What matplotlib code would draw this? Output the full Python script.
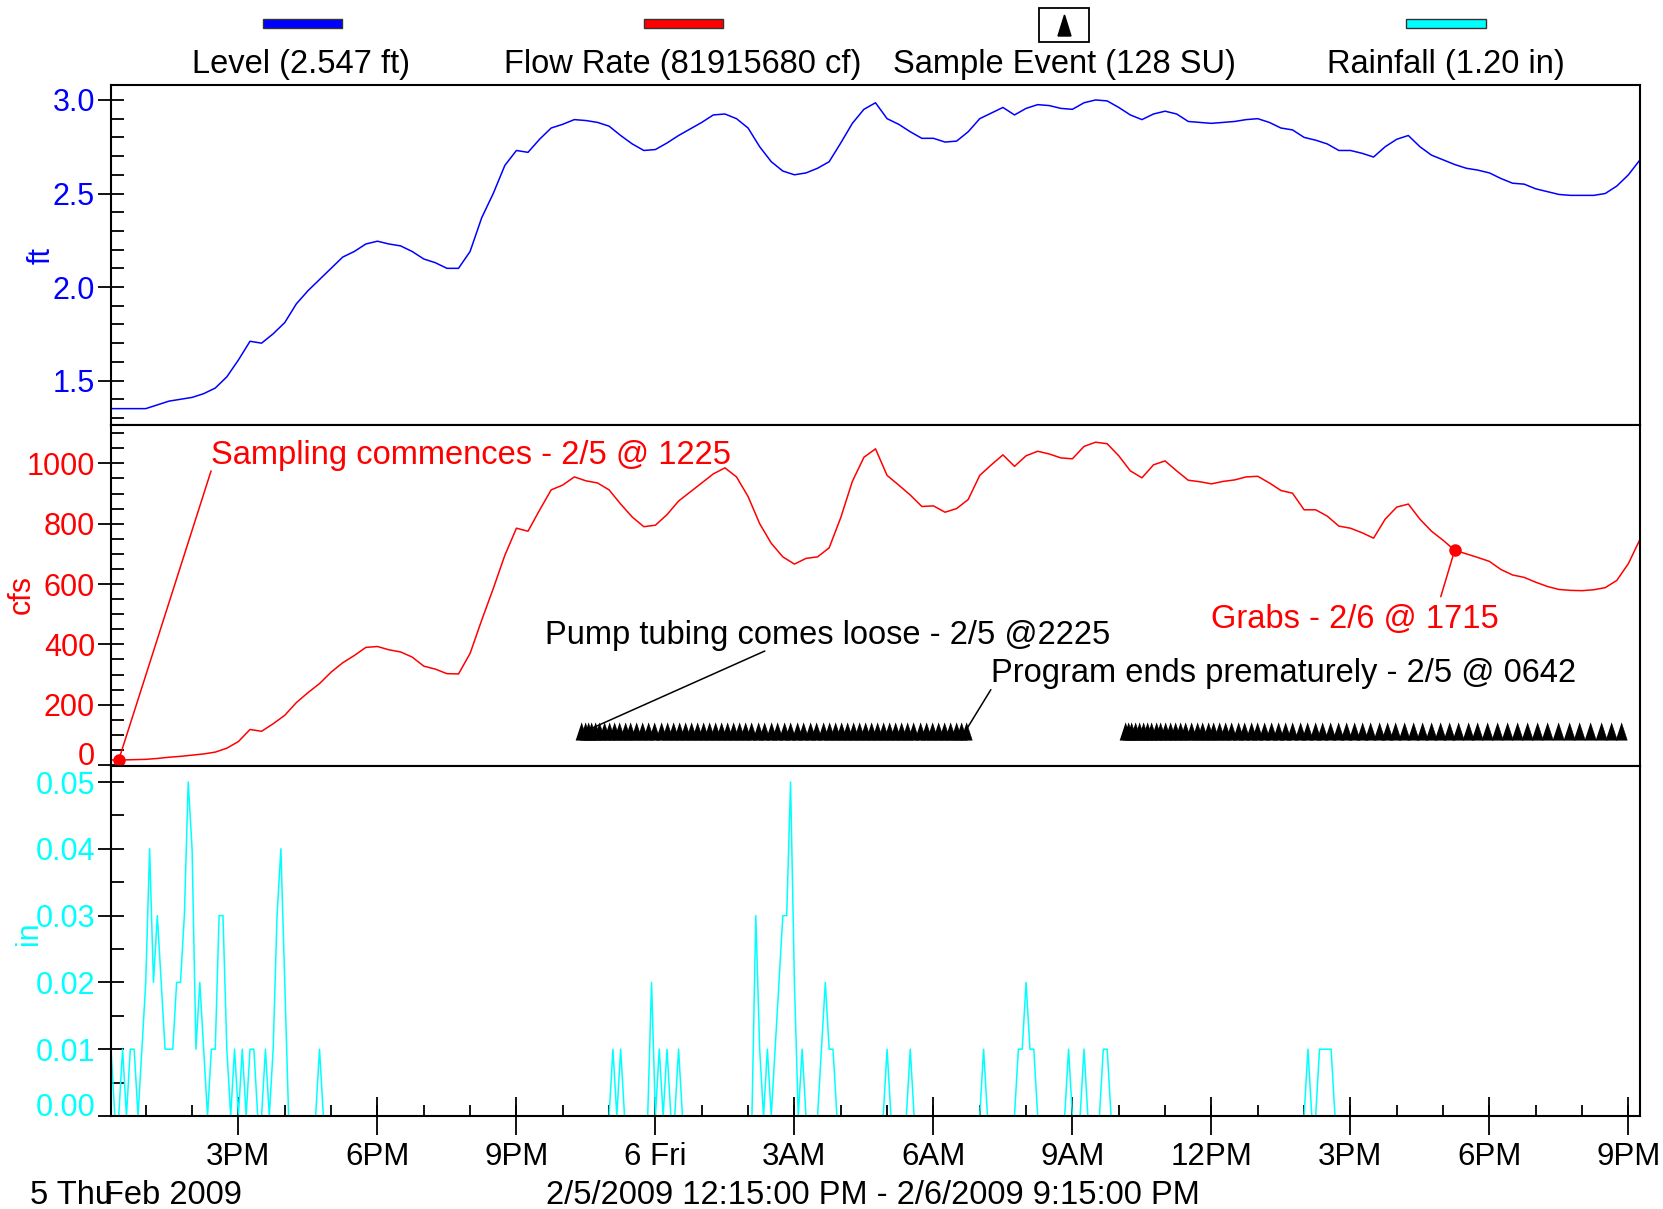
import numpy as np
import pandas as pd
import matplotlib
matplotlib.use("Agg")
import matplotlib.pyplot as plt
import matplotlib.dates as mdates
from matplotlib.patches import Rectangle, Polygon

W, H = 1663, 1209
plt.rcParams["font.family"] = ["Liberation Sans", "DejaVu Sans"]

# time base: 15 min for level / flow, 5 min for rainfall
start = pd.Timestamp("2009-02-05 12:15")
end = pd.Timestamp("2009-02-06 21:15")
t15 = pd.date_range(start, end, freq="15min")
t5 = pd.date_range(start, end, freq="5min")

level = [1.35, 1.35, 1.35, 1.35, 1.37, 1.39, 1.40, 1.41, 1.43, 1.46, 1.52, 1.61, 1.71,
         1.70, 1.75, 1.81, 1.91, 1.98, 2.04, 2.10, 2.16, 2.19, 2.23, 2.245, 2.23,
         2.22, 2.19, 2.15, 2.13, 2.10, 2.10, 2.19, 2.37, 2.50, 2.65, 2.73, 2.72,
         2.79, 2.85, 2.87, 2.895, 2.89, 2.88, 2.86, 2.81, 2.765, 2.73, 2.735, 2.77,
         2.81, 2.845, 2.88, 2.92, 2.925, 2.90, 2.85, 2.75, 2.67, 2.62, 2.60, 2.61,
         2.635, 2.67, 2.77, 2.875, 2.95, 2.985, 2.90, 2.87, 2.83, 2.795, 2.795, 2.775,
         2.78, 2.83, 2.90, 2.93, 2.96, 2.92, 2.955, 2.975, 2.97, 2.955, 2.95, 2.985,
         3.00, 2.995, 2.96, 2.92, 2.895, 2.925, 2.94, 2.925, 2.885, 2.88, 2.875, 2.88,
         2.885, 2.895, 2.90, 2.88, 2.85, 2.84, 2.80, 2.785, 2.765, 2.73, 2.73, 2.715,
         2.695, 2.75, 2.79, 2.81, 2.75, 2.705, 2.68, 2.655, 2.635, 2.625, 2.61, 2.58,
         2.555, 2.55, 2.525, 2.51, 2.495, 2.49, 2.49, 2.49, 2.50, 2.54, 2.60, 2.68]

flow = [17, 17, 18, 19, 22, 26, 29, 33, 37, 43, 56, 78, 118,
        112, 137, 165, 207, 240, 270, 308, 339, 363, 390, 393, 382,
        375, 358, 328, 318, 303, 302, 370, 480, 585, 695, 785, 775,
        845, 912, 928, 955, 942, 935, 912, 865, 822, 790, 795, 830,
        875, 905, 935, 965, 985, 955, 890, 800, 735, 690, 666, 685,
        690, 720, 820, 940, 1020, 1048, 960, 928, 895, 857, 859, 838,
        850, 880, 960, 995, 1028, 990, 1025, 1040, 1031, 1018, 1015, 1056,
        1070, 1065, 1025, 975, 952, 995, 1008, 975, 944, 939, 932, 940,
        945, 955, 957, 935, 910, 901, 846, 846, 825, 792, 785, 770,
        752, 815, 855, 865, 815, 775, 745, 712, 700, 688, 675, 648,
        630, 622, 606, 592, 582, 579, 578, 581, 588, 612, 668, 748]

# rainfall: non-zero 5-minute readings (index from 12:15, inches)
rain_idx = [0, 3, 5, 6, 8, 9, 10, 11, 12, 13, 14, 15, 16, 17, 18, 19, 20, 21, 22, 23, 24,
            26, 27, 28, 29, 30, 32, 34, 36, 37, 40, 42, 43, 44, 45, 54,
            130, 132, 140, 142, 144, 147, 167, 168, 170, 172, 173, 174, 175, 176, 177,
            179, 184, 185, 186, 187, 201, 207, 226, 235, 236, 237, 238, 239,
            248, 252, 257, 258, 310, 313, 314, 315, 316]
rain_val = [0.01, 0.01, 0.01, 0.01, 0.01, 0.02, 0.04, 0.02, 0.03, 0.02, 0.01, 0.01, 0.01, 0.02, 0.02,
            0.03, 0.05, 0.04, 0.01, 0.02, 0.01,
            0.01, 0.01, 0.03, 0.03, 0.01, 0.01, 0.01, 0.01, 0.01, 0.01, 0.01, 0.03, 0.04, 0.02, 0.01,
            0.01, 0.01, 0.02, 0.01, 0.01, 0.01, 0.03, 0.01, 0.01, 0.01, 0.02, 0.03, 0.03, 0.05, 0.02,
            0.01, 0.01, 0.02, 0.01, 0.01, 0.01, 0.01, 0.01, 0.01, 0.01, 0.02, 0.01, 0.01,
            0.01, 0.01, 0.01, 0.01, 0.01, 0.01, 0.01, 0.01, 0.01]

# sample events (hours after 12:15)
samples_a = [10.15, 10.22, 10.29, 10.37, 10.45, 10.54, 10.64, 10.74, 10.85, 10.97, 11.09, 11.21,
             11.34, 11.47, 11.60, 11.73, 11.86, 11.99, 12.12, 12.25, 12.38, 12.51, 12.64, 12.77,
             12.90, 13.03, 13.16, 13.29, 13.42, 13.55, 13.68, 13.82, 13.96, 14.10, 14.24, 14.38,
             14.52, 14.66, 14.80, 14.94, 15.08, 15.22, 15.36, 15.50, 15.63, 15.76, 15.89, 16.02,
             16.15, 16.28, 16.41, 16.54, 16.67, 16.80, 16.93, 17.06, 17.19, 17.32, 17.45, 17.58,
             17.71, 17.84, 17.97, 18.10, 18.23, 18.34, 18.45]
samples_b = [21.88, 21.95, 22.02, 22.10, 22.18, 22.27, 22.36, 22.45, 22.55, 22.65, 22.75, 22.86,
             22.97, 23.08, 23.19, 23.31, 23.43, 23.55, 23.67, 23.79, 23.92, 24.05, 24.18, 24.32,
             24.46, 24.60, 24.74, 24.89, 25.04, 25.19, 25.34, 25.50, 25.66, 25.82, 25.98, 26.14,
             26.31, 26.48, 26.65, 26.82, 27.00, 27.18, 27.36, 27.54, 27.72, 27.91, 28.10, 28.29,
             28.48, 28.68, 28.88, 29.08, 29.28, 29.49, 29.70, 29.91, 30.12, 30.34, 30.56, 30.78,
             31.00, 31.23, 31.46, 31.69, 31.92, 32.15, 32.38, 32.60]
SAMPLE_Y = 112

event_times = [pd.Timestamp("2009-02-05 12:25"), pd.Timestamp("2009-02-06 17:15")]

major_ticks = pd.date_range("2009-02-05 15:00", "2009-02-06 21:00", freq="3h")
major_labels = ["3PM", "6PM", "9PM", "6 Fri", "3AM", "6AM", "9AM", "12PM", "3PM", "6PM", "9PM"]
minor_ticks = pd.date_range("2009-02-05 13:00", "2009-02-06 21:00", freq="1h")


def hnum(h):
    return mdates.date2num(start + pd.Timedelta(hours=h))


def fx(x):
    return x / W


def fy(y):
    return 1 - y / H


rain = np.zeros(len(t5))
rain[rain_idx] = rain_val
flow = np.array(flow, dtype=float)
x15 = mdates.date2num(t15.to_pydatetime())
x5 = mdates.date2num(t5.to_pydatetime())

fig = plt.figure(figsize=(W / 100, H / 100), dpi=100)
L, R = 111, 1640
bounds = [(85, 425), (425, 766), (766, 1116)]
axes = [fig.add_axes([fx(L), fy(b), fx(R - L), (b - t) / H]) for t, b in bounds]
ax1, ax2, ax3 = axes

TS = 22
for ax in axes:
    ax.set_xlim(mdates.date2num(start), mdates.date2num(end))
    for s in ax.spines.values():
        s.set_linewidth(1.5)
    ax.tick_params(axis="y", which="major", direction="inout", length=19, width=1.3,
                   labelsize=TS, pad=2)
    ax.tick_params(axis="y", which="minor", direction="in", length=9.5, width=1.3)
    ax.set_xticks([])

# level
ax1.plot(x15, level, color="#0000ff", lw=1.1)
ax1.set_ylim(1.2625, 3.08)
ax1.set_yticks([1.5, 2.0, 2.5, 3.0])
ax1.set_yticklabels(["1.5", "2.0", "2.5", "3.0"])
ax1.set_yticks(np.arange(13, 31) / 10, minor=True)
ax1.tick_params(axis="y", labelcolor="#0000ff")

# flow
ax2.plot(x15, flow, color="#ff0000", lw=1.1)
ex = mdates.date2num([t.to_pydatetime() for t in event_times])
ax2.plot(ex, np.interp(ex, x15, flow), "o", color="#ff0000", ms=8, zorder=5)
tri = [(-0.33, -0.5), (0.33, -0.5), (0.0, 0.5)]
for grp in (samples_a, samples_b):
    xs = [hnum(h) for h in grp]
    ax2.plot(xs, [SAMPLE_Y] * len(xs), linestyle="none", marker=tri, ms=12.5,
             color="black", mec="black", mew=0.4, zorder=4)
ax2.set_ylim(-3, 1127)
ax2.set_yticks(range(0, 1001, 200))
ax2.set_yticklabels([str(v) for v in range(0, 1001, 200)])
ax2.set_yticks(range(0, 1101, 50), minor=True)
ax2.tick_params(axis="y", labelcolor="#ff0000")
ax2.yaxis.get_major_ticks()[0].label1.set_va("baseline")

AS = 23.5
ax2.annotate("", xy=(ex[0], np.interp(ex[0], x15, flow)), xytext=(hnum(2.16), 975),
             arrowprops=dict(arrowstyle="-", color="#ff0000", lw=1.1, shrinkA=0, shrinkB=0))
ax2.text(hnum(2.16), 1027, "Sampling commences - 2/5 @ 1225", color="#ff0000",
         fontsize=AS, ha="left", va="center")
ax2.annotate("", xy=(hnum(10.33), 119), xytext=(hnum(14.11), 378),
             arrowprops=dict(arrowstyle="-", color="black", lw=1.1, shrinkA=0, shrinkB=0))
ax2.text(hnum(9.36), 430, "Pump tubing comes loose - 2/5 @2225", color="black",
         fontsize=AS, ha="left", va="center")
ax2.annotate("", xy=(hnum(18.49), 125), xytext=(hnum(18.99), 250),
             arrowprops=dict(arrowstyle="-", color="black", lw=1.1, shrinkA=0, shrinkB=0))
ax2.text(hnum(18.99), 304, "Program ends prematurely - 2/5 @ 0642", color="black",
         fontsize=AS, ha="left", va="center")
ax2.annotate("", xy=(ex[1], np.interp(ex[1], x15, flow)), xytext=(hnum(28.7), 558),
             arrowprops=dict(arrowstyle="-", color="#ff0000", lw=1.1, shrinkA=0, shrinkB=0))
ax2.text(hnum(23.75), 484, "Grabs - 2/6 @ 1715", color="#ff0000",
         fontsize=AS, ha="left", va="center")

# rainfall
ax3.plot(x5, rain, color="#00ffff", lw=1.1)
ax3.set_ylim(0, 0.0524)
ax3.set_yticks([0.0, 0.01, 0.02, 0.03, 0.04, 0.05])
ax3.set_yticklabels(["0.00", "0.01", "0.02", "0.03", "0.04", "0.05"])
ax3.set_yticks(np.arange(0, 11) * 0.005, minor=True)
ax3.tick_params(axis="y", labelcolor="#00ffff")
ax3.yaxis.get_major_ticks()[0].label1.set_va("baseline")

ax3.xaxis.remove_overlapping_locs = False
ax3.set_xticks(mdates.date2num(major_ticks.to_pydatetime()))
ax3.set_xticklabels(major_labels)
ax3.set_xticks(mdates.date2num(minor_ticks.to_pydatetime()), minor=True)
ax3.tick_params(axis="x", which="major", direction="inout", length=27, width=1.3,
                labelsize=22.5, pad=5)
ax3.tick_params(axis="x", which="minor", direction="in", length=8, width=1.3)

# axis titles
fig.text(fx(42), fy(255), "ft", color="#0000ff", fontsize=TS, rotation=90, ha="center", va="center")
fig.text(fx(22), fy(594), "cfs", color="#ff0000", fontsize=TS, rotation=90, ha="center", va="center")
fig.text(fx(29), fy(933), "in", color="#00ffff", fontsize=TS, rotation=90, ha="center", va="center")

# legend strip on top
LS = 23.5
for (x0, x1), col in [((263, 342), "#0000ff"), ((644, 723), "#ff0000"), ((1406, 1486), "#00ffff")]:
    fig.add_artist(Rectangle((fx(x0), fy(28)), (x1 - x0) / W, 9 / H, transform=fig.transFigure,
                             facecolor=col, edgecolor="#333333", lw=1))
fig.add_artist(Rectangle((fx(1039), fy(42)), 50 / W, 34 / H, transform=fig.transFigure,
                         facecolor="white", edgecolor="black", lw=1.3))
fig.add_artist(Polygon([(fx(1058), fy(36)), (fx(1071), fy(36)), (fx(1064.5), fy(15))],
                       closed=True, transform=fig.transFigure, facecolor="black", edgecolor="black"))
for cx, lab in [(301, "Level (2.547 ft)"), (683, "Flow Rate (81915680 cf)"),
                (1064, "Sample Event (128 SU)"), (1446, "Rainfall (1.20 in)")]:
    fig.text(fx(cx), fy(64), lab, fontsize=LS, ha="center", va="center")

# footer
fig.text(fx(30), fy(1196), "5 Thu", fontsize=LS, ha="left", va="center")
fig.text(fx(104), fy(1196), "Feb 2009", fontsize=LS, ha="left", va="center")
fig.text(fx(873), fy(1196), "2/5/2009 12:15:00 PM - 2/6/2009 9:15:00 PM", fontsize=LS,
         ha="center", va="center")

fig.savefig("out.png", dpi=100)
